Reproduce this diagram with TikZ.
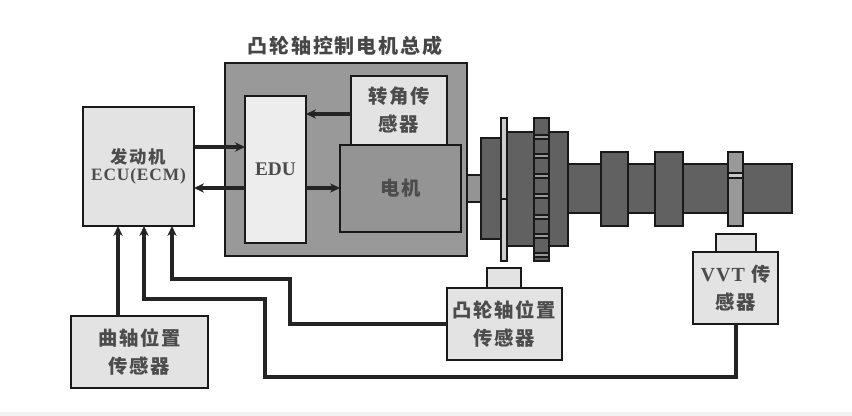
\documentclass[tikz,border=0pt]{standalone}
\usepackage{fontspec}
\usetikzlibrary{arrows.meta}
\setmainfont{Liberation Serif}
\newfontfamily\cjk[LetterSpace=9]{Noto Sans CJK SC}
\newfontfamily\cjkp[LetterSpace=5]{Liberation Serif}
\tikzset{
  base/.style={draw=black!90,line width=2.15pt,inner sep=0pt,outer sep=0pt,align=center,text=black!70},
  lightbox/.style={base,fill=black!11},
  palebox/.style={base,fill=black!7},
  midbox/.style={base,fill=black!42},
  housing/.style={base,fill=black!40},
  dark/.style={base,fill=black!62},
  ringbox/.style={base,fill=black!40},
  plate/.style={base,line width=1.6pt,fill=black!20},
  tooth/.style={draw=black!90,line width=1.3pt,fill=black!40,inner sep=0pt,outer sep=0pt},
  wire/.style={draw=black!86,line width=2.3pt},
  arr/.style={wire,-{Stealth[length=7.5pt,width=7pt]}},
  cn/.style={font=\fontsize{14.5}{21}\selectfont\cjk\bfseries},
}
\newcommand{\bx}[7][]{\node[#7,#1,minimum width={(#4-#2)*0.75pt},minimum height={(#5-#3)*0.75pt}] (#6) at ({(#2+#4)/2},{(#3+#5)/2}) {};}
\newcommand{\bt}[8][]{\node[#7,#1,minimum width={(#4-#2)*0.75pt},minimum height={(#5-#3)*0.75pt}] (#6) at ({(#2+#4)/2},{(#3+#5)/2}) {#8};}
\begin{document}
\begin{tikzpicture}[x=0.75pt,y=-0.75pt]
\useasboundingbox (0,0) rectangle (852,416);
\fill[black!5] (0,412) rectangle (852,416);
% camshaft
\bx{462}{175}{481}{202}{stub}{midbox}
\bx{568}{164}{792}{213}{shaft}{dark}
\bx{601}{152}{628}{226}{camA}{dark}
\bx{655}{152}{683}{226}{camB}{dark}
\bx{728}{152}{743}{226}{ring}{ringbox}
\node[tooth,fill=black!22,minimum width=11.2pt,minimum height=4pt] (ringband) at (735.5,175.5) {};
\bx{481}{138}{507}{239}{diskA}{dark}
\bx{507}{132}{568}{246}{diskB}{dark}
\bx{501}{118}{507}{261}{thin}{plate}
\node[tooth,fill=black!20,minimum width=5pt,minimum height=0.6pt] (thinmark) at (504,199) {};
\bx{534}{118}{549}{261}{gear}{dark}
\foreach \i/\yy in {1/137,2/156,3/176,4/196,5/217,6/236,7/255}
  \node[tooth,minimum width=11pt,minimum height=3.5pt] (gt\i) at (541.5,\yy) {};
% assembly
\node[font=\fontsize{15}{18}\selectfont\cjk\bfseries,text=black!72] (title) at (345,46) {凸轮轴控制电机总成};
\bx{225}{63}{467}{256}{assembly}{housing}
\bt{245}{96}{306}{243}{edu}{palebox}{\fontsize{14.5}{18}\selectfont\bfseries EDU}
\bt[cn]{351}{76}{447}{145}{angle}{lightbox}{转角传\\感器}
\bt[cn]{340}{145}{461}{232}{motor}{midbox}{电机}
% ECU
\bt{83}{107}{194}{226}{ecu}{lightbox}{{\fontsize{13}{20}\selectfont\cjk\bfseries 发动机}\\[1pt]{\fontsize{13}{16}\selectfont\cjkp\bfseries ECU(ECM)}}
% sensors
\bt[cn]{71}{316}{208}{388}{crank}{lightbox}{曲轴位置\\传感器}
\bx{487}{268}{521}{288}{camcap}{lightbox}
\bt[cn]{447}{288}{562}{360}{camsens}{lightbox}{凸轮轴位置\\传感器}
\bx{716}{234}{756}{252}{vvtcap}{lightbox}
\bt[cn]{693}{252}{778}{324}{vvtsens}{lightbox}{{\fontsize{15}{21}\selectfont\cjkp\bfseries VVT} 传\\感器}
% connectors
\draw[arr] (ecu.east |- 0,147) -- (edu.west |- 0,147);
\draw[arr] (edu.west |- 0,188) -- (ecu.east |- 0,188);
\draw[arr] (angle.west |- 0,114) -- (edu.east |- 0,114);
\draw[arr] (edu.east |- 0,188) -- (motor.west |- 0,188);
\draw[arr] (crank.north -| 118,0) -- (ecu.south -| 118,0);
\draw[arr] (vvtsens.south -| 736,0) -- (736,377) -- (265,377) -- (265,299) -- (144,299) -- (ecu.south -| 144,0);
\draw[arr] (camsens.west |- 0,324) -- (290,324) -- (290,279) -- (172,279) -- (ecu.south -| 172,0);
\end{tikzpicture}
\end{document}
